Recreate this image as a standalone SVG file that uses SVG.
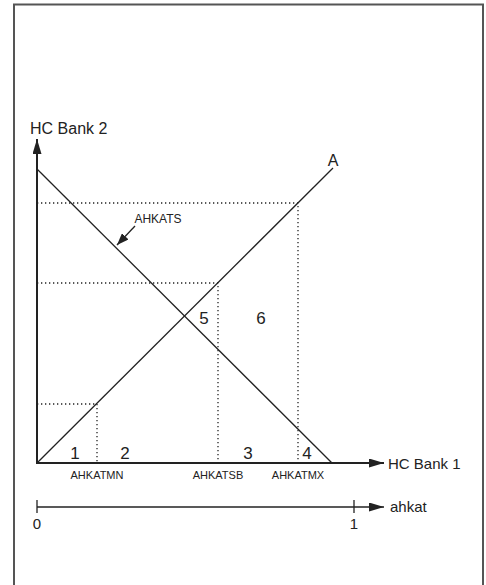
<svg xmlns="http://www.w3.org/2000/svg" width="486" height="585" viewBox="0 0 486 585">
<style>
.t{font-family:"Liberation Sans",Arial,sans-serif;fill:#222}
.ax{stroke:#222;stroke-width:2;fill:none}
.ln{stroke:#222;stroke-width:1.3;fill:none}
.dt{stroke:#222;stroke-width:1.3;stroke-dasharray:1.3 2.7;fill:none}
</style>
<defs>
<marker id="ah" markerWidth="15" markerHeight="9" refX="15" refY="4.5" orient="auto" markerUnits="userSpaceOnUse">
<path d="M0,0 L15,4.5 L0,9 Z" fill="#222"/>
</marker>
<marker id="ah2" markerWidth="12" markerHeight="9" refX="12" refY="4.5" orient="auto" markerUnits="userSpaceOnUse">
<path d="M0,0 L12,4.5 L0,9 Z" fill="#222"/>
</marker>
</defs>
<rect width="486" height="585" fill="#fff"/>
<path d="M14,590 V4.5 H483 V590" fill="none" stroke="#555" stroke-width="2"/>
<g id="connectors">
<line class="ax" x1="37" y1="464" x2="37" y2="139" marker-end="url(#ah)"/>
<line class="ax" x1="36" y1="463" x2="384" y2="463" marker-end="url(#ah)"/>
<line class="ln" x1="37" y1="463" x2="333" y2="168"/>
<line class="ln" x1="37" y1="169" x2="332" y2="463"/>
<path class="dt" d="M37,203 H298 V463"/>
<path class="dt" d="M37,283 H218 V463"/>
<path class="dt" d="M37,404 H97 V463"/>
<line class="ln" x1="135" y1="226" x2="117" y2="245" marker-end="url(#ah2)"/>
<line x1="37" y1="507" x2="384" y2="507" stroke="#222" stroke-width="1.3" marker-end="url(#ah)"/>
<line x1="37" y1="500" x2="37" y2="513" stroke="#222" stroke-width="1.3"/>
<line x1="354" y1="500" x2="354" y2="513" stroke="#222" stroke-width="1.3"/>
</g>
<g id="labels">
<text class="t" x="30" y="134" font-size="16">HC Bank 2</text>
<text class="t" x="388" y="469" font-size="15">HC Bank 1</text>
<text class="t" x="333" y="166" font-size="16" text-anchor="middle">A</text>
<text class="t" x="158" y="223" font-size="12" text-anchor="middle">AHKATS</text>
<text class="t" x="75" y="459" font-size="17" text-anchor="middle">1</text>
<text class="t" x="125" y="459" font-size="17" text-anchor="middle">2</text>
<text class="t" x="248" y="459" font-size="17" text-anchor="middle">3</text>
<text class="t" x="307" y="459" font-size="17" text-anchor="middle">4</text>
<text class="t" x="204" y="324" font-size="17" text-anchor="middle">5</text>
<text class="t" x="261" y="324" font-size="17" text-anchor="middle">6</text>
<text class="t" x="97" y="479" font-size="11" text-anchor="middle">AHKATMN</text>
<text class="t" x="218" y="479" font-size="11" text-anchor="middle">AHKATSB</text>
<text class="t" x="298" y="479" font-size="11" text-anchor="middle">AHKATMX</text>
<text class="t" x="390" y="512" font-size="15">ahkat</text>
<text class="t" x="37" y="529" font-size="15" text-anchor="middle">0</text>
<text class="t" x="354" y="529" font-size="15" text-anchor="middle">1</text>
</g>
</svg>
